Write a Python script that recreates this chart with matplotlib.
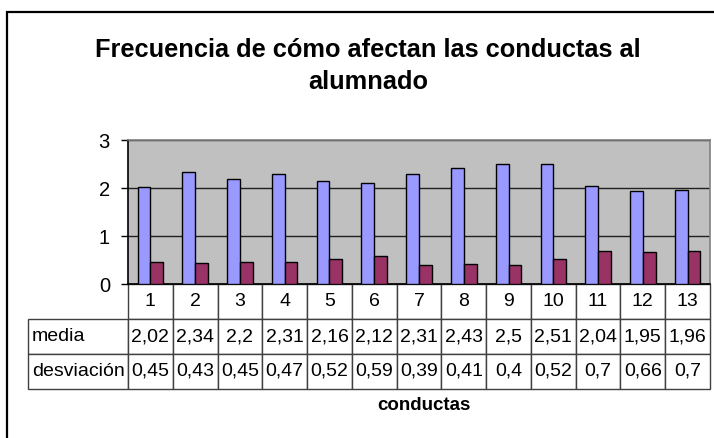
import matplotlib.pyplot as plt
from matplotlib.patches import Rectangle

plt.rcParams['font.family'] = ['Liberation Sans', 'DejaVu Sans']

# datos
conductas = ['1', '2', '3', '4', '5', '6', '7', '8', '9', '10', '11', '12', '13']
media = [2.02, 2.34, 2.2, 2.31, 2.16, 2.12, 2.31, 2.43, 2.5, 2.51, 2.04, 1.95, 1.96]
desviacion = [0.45, 0.43, 0.45, 0.47, 0.52, 0.59, 0.39, 0.41, 0.4, 0.52, 0.7, 0.66, 0.7]
series = ['media', 'desviación']
colores = ['#9999ff', '#993366']


def coma(v):
    return f'{v:g}'.replace('.', ',')


W, H = 714, 438
fig = plt.figure(figsize=(W / 100, H / 100), dpi=100)

# marco exterior
fig.add_artist(Rectangle((7 / W, -0.1), 1.2, 1.1 - 12 / H, transform=fig.transFigure,
                         fill=False, ec='black', lw=1.6))

ax = fig.add_axes([128 / W, 1 - 284 / H, 582 / W, 143.5 / H])
ax.set_facecolor('#c0c0c0')

x = list(range(len(conductas)))
w = 0.2857
ax.bar([i - w / 2 for i in x], media, w, color=colores[0], edgecolor='black', lw=1, zorder=3)
ax.bar([i + w / 2 for i in x], desviacion, w, color=colores[1], edgecolor='black', lw=1, zorder=3)

ax.set_xlim(-0.5, len(conductas) - 0.5)
ax.set_ylim(0, 3)
ax.set_yticks([0, 1, 2, 3])
ax.set_xticks([])
ax.yaxis.grid(True, color='#202020', lw=1)
ax.set_axisbelow(True)
ax.tick_params(axis='y', length=5, width=1, pad=8, labelsize=14.5)
for s in ['left', 'bottom']:
    ax.spines[s].set_color('black')
    ax.spines[s].set_linewidth(1.2)
for s in ['top', 'right']:
    ax.spines[s].set_color('#808080')
    ax.spines[s].set_linewidth(1.2)

# tabla de datos
tab = ax.table(cellText=[[coma(v) for v in media], [coma(v) for v in desviacion]],
               rowLabels=series, colLabels=conductas, cellLoc='center', rowLoc='left',
               bbox=[0, -105 / 143.5, 1, 105 / 143.5])
tab.auto_set_font_size(False)
tab.set_fontsize(14)
celdas = tab.get_celld()
ancho = celdas[(0, 0)].get_width()
for (r, c), cell in celdas.items():
    cell.set_edgecolor('#404040')
    cell.set_linewidth(1)
    if c == -1:
        cell.set_width(ancho * 13 * 105 / 582)
        cell.PAD = 0.04

fig.text(368 / W, 1 - 66 / H, 'Frecuencia de cómo afectan las conductas al\nalumnado',
         ha='center', va='center', fontsize=18.3, fontweight='bold', linespacing=1.45)
fig.text(424 / W, 1 - 405 / H, 'conductas', ha='center', va='center',
         fontsize=13.5, fontweight='bold')

fig.savefig('out.png', dpi=100)
